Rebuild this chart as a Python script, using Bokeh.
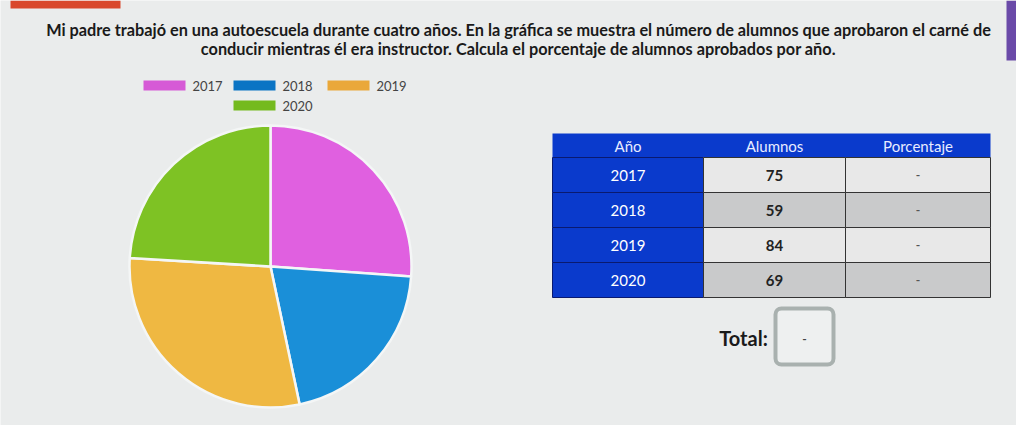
import numpy as np
from bokeh.plotting import figure
from bokeh.models import ColumnDataSource, Range1d
from bokeh.core.properties import value
from bokeh.embed import file_html
from bokeh.resources import INLINE

# ---- data ----
years = ["2017", "2018", "2019", "2020"]
alumnos = [75, 59, 84, 69]
porcentaje = ["-", "-", "-", "-"]
headers = ["Año", "Alumnos", "Porcentaje"]
total_label = "Total:"
total_value = "-"
title_1 = "Mi padre trabajó en una autoescuela durante cuatro años. En la gráfica se muestra el número de alumnos que aprobaron el carné de"
title_2 = "conducir mientras él era instructor. Calcula el porcentaje de alumnos aprobados por año."

pie_colors = ["#e060e0", "#1a8fd8", "#efb842", "#7ec224"]
legend_colors = ["#d65ad6", "#0b74c4", "#eaa83a", "#74ba1e"]

W, H = 1016, 425
def X(x):
    return x
def Y(y):
    return H - y

p = figure(width=W, height=H, x_range=Range1d(0, W), y_range=Range1d(0, H),
           output_backend="svg", toolbar_location=None, min_border=0)
p.axis.visible = False
p.grid.visible = False
p.outline_line_color = None
p.background_fill_color = "#eaecec"
p.border_fill_color = "#eaecec"

FONT = value("Lato")

# decorative bars
p.quad(left=[X(10)], right=[X(120)], bottom=[Y(8)], top=[Y(0)], fill_color="#d9482c", line_color=None)
p.quad(left=[X(1006)], right=[X(1016)], bottom=[Y(60)], top=[Y(0)], fill_color="#6a4aa8", line_color=None)

# title
p.text(x=[X(518)], y=[Y(29)], text=[title_1], text_font=FONT, text_font_style="bold",
       text_font_size="16.3px", text_align="center", text_baseline="middle", text_color="#1a1a1a")
p.text(x=[X(518)], y=[Y(48)], text=[title_2], text_font=FONT, text_font_style="bold",
       text_font_size="16.3px", text_align="center", text_baseline="middle", text_color="#1a1a1a")

# pie
total = sum(alumnos)
fr = np.array(alumnos) / total
cum = np.concatenate([[0], np.cumsum(fr)])
start = np.pi / 2 - 2 * np.pi * cum[:-1]
end = np.pi / 2 - 2 * np.pi * cum[1:]
pie_src = ColumnDataSource(dict(start=start, end=end, color=pie_colors, year=years))
p.wedge(x=X(270), y=Y(266), radius=141, start_angle="start", end_angle="end",
        direction="clock", fill_color="color", line_color="#f4f6f6", line_width=2.5, source=pie_src)

# legend
leg_pos = [(143, 85), (233, 85), (327, 85), (233, 105)]
lx = [X(a) for a, b in leg_pos]
ly = [Y(b) for a, b in leg_pos]
p.quad(left=lx, right=[v + 42 for v in lx], bottom=[v - 5 for v in ly], top=[v + 5 for v in ly],
       fill_color=legend_colors, line_color=None)
p.text(x=[v + 49 for v in lx], y=ly, text=years, text_font=FONT, text_font_size="13px",
       text_baseline="middle", text_color="#444444")

# table
col_edges = [552, 703, 845, 990]
row_edges = [133, 157, 192, 227, 262, 297]
blue = "#0a3acc"
p.quad(left=[X(col_edges[0])], right=[X(col_edges[-1])], bottom=[Y(row_edges[1])], top=[Y(row_edges[0])],
       fill_color=blue, line_color=None)
hx = [X((col_edges[i] + col_edges[i + 1]) / 2) for i in range(3)]
p.text(x=hx, y=[Y((row_edges[0] + row_edges[1]) / 2)] * 3, text=headers, text_font=FONT,
       text_font_size="15px", text_align="center", text_baseline="middle", text_color="#e8ecff")
n = len(years)
rb = [Y(row_edges[i + 2]) for i in range(n)]
rt = [Y(row_edges[i + 1]) for i in range(n)]
rm = [(a + b) / 2 for a, b in zip(rb, rt)]
cell_fill = ["#e8e8e8" if i % 2 == 0 else "#c9cacb" for i in range(n)]
p.quad(left=[X(col_edges[0])] * n, right=[X(col_edges[1])] * n, bottom=rb, top=rt,
       fill_color=blue, line_color="#0a1a70", line_width=1)
p.quad(left=[X(col_edges[1])] * n, right=[X(col_edges[2])] * n, bottom=rb, top=rt,
       fill_color=cell_fill, line_color="#333333", line_width=1)
p.quad(left=[X(col_edges[2])] * n, right=[X(col_edges[3])] * n, bottom=rb, top=rt,
       fill_color=cell_fill, line_color="#333333", line_width=1)
p.text(x=[hx[0]] * n, y=rm, text=years, text_font=FONT, text_font_size="15px",
       text_align="center", text_baseline="middle", text_color="#ffffff")
p.text(x=[hx[1]] * n, y=rm, text=[str(a) for a in alumnos], text_font=FONT, text_font_style="bold",
       text_font_size="15px", text_align="center", text_baseline="middle", text_color="#222222")
p.text(x=[hx[2]] * n, y=rm, text=porcentaje, text_font=FONT, text_font_style="bold",
       text_font_size="12px", text_align="center", text_baseline="middle", text_color="#555555")

# total
p.text(x=[X(743)], y=[Y(337)], text=[total_label], text_font=FONT, text_font_style="bold",
       text_font_size="20px", text_align="center", text_baseline="middle", text_color="#1a1a1a")
p.rect(x=[X(804)], y=[Y(336)], width=58, height=56, fill_color="#eef0f0",
       line_color="#a9b1af", line_width=4, border_radius=6)
p.text(x=[X(804)], y=[Y(338)], text=[total_value], text_font=FONT, text_font_style="bold",
       text_font_size="12px", text_align="center", text_baseline="middle", text_color="#444444")

open("out.html", "w").write(file_html(p, INLINE))
